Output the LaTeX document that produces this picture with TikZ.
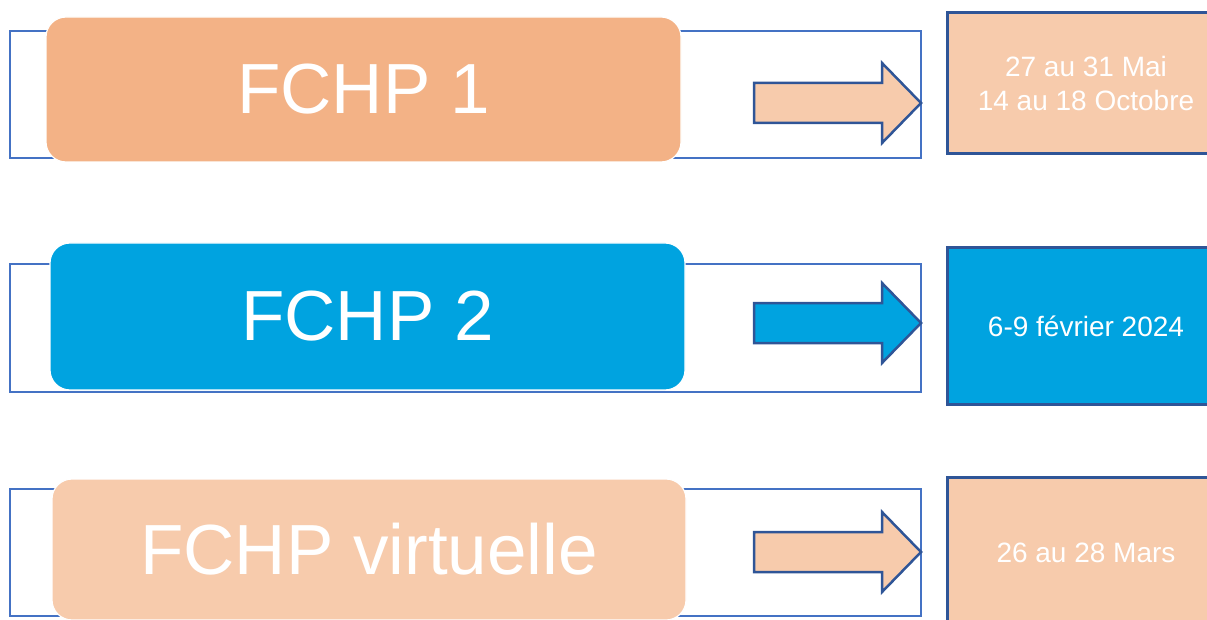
\documentclass[tikz,border=0pt]{standalone}
\usepackage{fontspec}
\setmainfont{Liberation Sans}
\usepackage{xcolor}
\usepackage{tikz}
\usetikzlibrary{positioning,calc}
\definecolor{peachDark}{RGB}{243,178,134}
\definecolor{peachLight}{RGB}{247,203,172}
\definecolor{skyBlue}{RGB}{0,163,224}
\definecolor{frameBlue}{RGB}{68,114,196}
\definecolor{navyLine}{RGB}{47,85,151}
\tikzset{
    outframe/.style={
        draw=frameBlue,
        line width=2pt,
        inner sep=0pt
    },
    levelbox/.style={
        draw=white,
        line width=1.2pt,
        rounded corners=20pt,
        text=white,
        font=\fontsize{71}{80}\selectfont,
        inner sep=0pt
    },
    datebox/.style={
        draw=navyLine,
        line width=3pt,
        text=white,
        align=center,
        font=\fontsize{28}{34}\selectfont,
        inner sep=0pt
    },
    blockarrow/.style={
        draw=navyLine,
        line width=2.5pt,
        line join=miter
    }
}

\begin{document}
\begin{tikzpicture}[x=1pt, y=-1pt]
    \useasboundingbox (0,0) rectangle (1207,620);
    \clip (0,0) rectangle (1207,620);

    % 1. Cadres bleus derriere les etiquettes
    \node[outframe, minimum width=911pt, minimum height=127pt] (frame1) at (465.5,94.5) {};
    \node[outframe, minimum width=911pt, minimum height=128pt] (frame2) at (465.5,328) {};
    \node[outframe, minimum width=911pt, minimum height=127pt] (frame3) at (465.5,552.5) {};

    % 2. Etiquettes arrondies
    \node[levelbox, fill=peachDark, minimum width=635pt, minimum height=145pt] (fchp1) at (363.5,89.5) {FCHP 1};
    \node[levelbox, fill=skyBlue, minimum width=635pt, minimum height=147pt] (fchp2) at (367.5,316.5) {FCHP 2};
    \node[levelbox, fill=peachLight, minimum width=634pt, minimum height=141pt] (fchpv) at (369,549.5) {FCHP virtuelle};

    % 3. Fleches vers les dates
    \coordinate (tip1) at (921,103);
    \coordinate (tip2) at (921,323);
    \coordinate (tip3) at (921,552);
    \draw[blockarrow, fill=peachLight] (tip1) -- ++(-39,-40) -- ++(0,20) -- ++(-128,0) -- ++(0,40) -- ++(128,0) -- ++(0,20) -- cycle;
    \draw[blockarrow, fill=skyBlue] (tip2) -- ++(-39,-40) -- ++(0,20) -- ++(-128,0) -- ++(0,40) -- ++(128,0) -- ++(0,20) -- cycle;
    \draw[blockarrow, fill=peachLight] (tip3) -- ++(-39,-40) -- ++(0,20) -- ++(-128,0) -- ++(0,40) -- ++(128,0) -- ++(0,20) -- cycle;

    % 4. Cases des dates
    \node[datebox, fill=peachLight, minimum width=278pt, minimum height=141pt] (date1) at (1086,83.5) {27 au 31 Mai\\14 au 18 Octobre};
    \node[datebox, fill=skyBlue, minimum width=278pt, minimum height=156pt] (date2) at (1086,326) {6-9 février 2024};
    \node[datebox, fill=peachLight, minimum width=278pt, minimum height=152pt] (date3) at (1086,553) {26 au 28 Mars};
\end{tikzpicture}
\end{document}
